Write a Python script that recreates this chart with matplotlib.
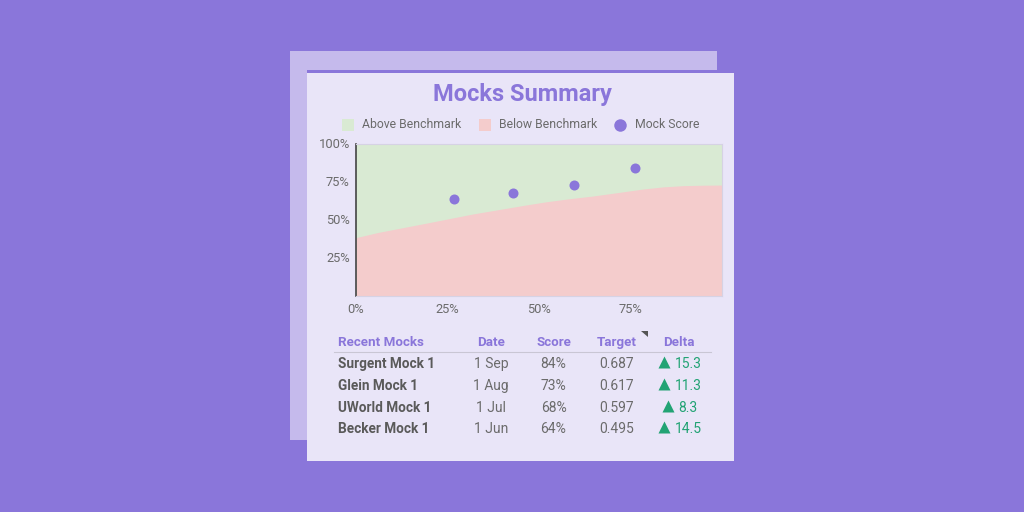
import matplotlib
matplotlib.use("Agg")
import matplotlib.pyplot as plt
from matplotlib.patches import Rectangle, Polygon
from matplotlib.transforms import ScaledTranslation

BG = "#8A76DA"
BACK = "#C5BAEC"
CARD = "#E9E5F8"
PURPLE = "#8A76DA"
GREEN = "#D9EAD3"
RED = "#F4CCCC"
GREY = "#6B6B6B"
DARK = "#5A5A5A"
TEAL = "#22A374"

bench_x = [0, 6, 12.9, 20, 25.7, 32, 39.4, 46, 52, 58, 64.8, 72, 78.5, 84, 89.4, 95, 100]
bench_y = [38.4, 41.8, 45, 48.3, 51, 54, 57, 59.7, 62, 63.9, 65.8, 68.2, 70.4, 71.8, 72.6, 72.9, 73]
score_x = [26.8, 42.9, 59.6, 76.2]
score_y = [64, 68, 73, 84]
y_ticks = [25, 50, 75, 100]
x_ticks = [0, 25, 50, 75]
legend_labels = ["Above Benchmark", "Below Benchmark", "Mock Score"]
title = "Mocks Summary"
columns = ["Recent Mocks", "Date", "Score", "Target", "Delta"]
names = ["Surgent Mock 1", "Glein Mock 1", "UWorld Mock 1", "Becker Mock 1"]
dates = ["1 Sep", "1 Aug", "1 Jul", "1 Jun"]
scores = ["84%", "73%", "68%", "64%"]
targets = ["0.687", "0.617", "0.597", "0.495"]
deltas = ["15.3", "11.3", "8.3", "14.5"]

fig = plt.figure(figsize=(10.24, 5.12), dpi=100, facecolor=BG)
plt.rcParams["font.family"] = ["Roboto", "DejaVu Sans"]

# Pixel-space overlay
ov = fig.add_axes([0, 0, 1, 1], zorder=0)
ov.set_xlim(0, 1024)
ov.set_ylim(512, 0)
ov.axis("off")
ov.add_patch(Rectangle((290, 51), 427, 389, fc=BACK, ec="none"))
ov.add_patch(Rectangle((307, 72.5), 426.5, 388, fc=CARD, ec="none"))
ov.add_patch(Rectangle((307, 70), 426.5, 2.5, fc=PURPLE, ec="none"))

ov.text(522, 94, title, ha="center", va="center", fontsize=17, fontweight="bold",
        color=PURPLE, family=["Roboto", "DejaVu Sans"])

# Legend
ov.add_patch(Rectangle((342, 119), 12, 12, fc=GREEN, ec="none"))
ov.text(362, 125, legend_labels[0], va="center", fontsize=8.85, color=GREY)
ov.add_patch(Rectangle((478.5, 119), 12, 12, fc=RED, ec="none"))
ov.text(499, 125, legend_labels[1], va="center", fontsize=8.85, color=GREY)
ov.plot([620], [124.5], "o", ms=9, color=PURPLE, mec="none")
ov.text(635, 125, legend_labels[2], va="center", fontsize=8.85, color=GREY)

# Chart
ax = fig.add_axes([356 / 1024, 1 - 296 / 512, 366 / 1024, 152 / 512], zorder=1)
ax.set_xlim(0, 100)
ax.set_ylim(0, 100)
ax.set_facecolor(GREEN)
ax.fill_between(bench_x, 0, bench_y, color=RED, lw=0)
ax.scatter(score_x, score_y, s=52, color=PURPLE, lw=0, zorder=3)
for side in ("top", "right", "bottom"):
    ax.spines[side].set_color("#D6D2E4")
    ax.spines[side].set_linewidth(0.8)
ax.spines["left"].set_color("#444444")
ax.spines["left"].set_linewidth(1.2)
ax.set_xticks(x_ticks, [f"{t}%" for t in x_ticks])
ax.set_yticks(y_ticks, [f"{t}%" for t in y_ticks])
ax.tick_params(length=0, labelsize=9.3, labelcolor=GREY)
ax.tick_params(axis="x", pad=5)
ax.tick_params(axis="y", pad=4.5)
up = ScaledTranslation(0, 1.2 / 100, fig.dpi_scale_trans)
for lab in ax.get_yticklabels():
    lab.set_transform(lab.get_transform() + up)

# Table
col_x = [338, 491, 553.5, 616.5, 679]
rows_y = [364, 386, 407.5, 429]
hy = 342.5
ov2 = fig.add_axes([0, 0, 1, 1], zorder=2)
ov2.set_xlim(0, 1024)
ov2.set_ylim(512, 0)
ov2.axis("off")
for i, c in enumerate(columns):
    ov2.text(col_x[i], hy, c, ha="left" if i == 0 else "center", va="center",
             fontsize=9.6, fontweight="bold", color=PURPLE)
ov2.plot([334, 711], [352, 352], color="#C9C6D4", lw=0.8)
ov2.add_patch(Polygon([[641, 331], [647.5, 331], [647.5, 337]], fc="#555555", ec="none"))
for i, y in enumerate(rows_y):
    ov2.text(col_x[0], y, names[i], va="center", fontsize=9.8, fontweight="bold", color=DARK)
    ov2.text(col_x[1], y, dates[i], ha="center", va="center", fontsize=10, color=GREY)
    ov2.text(col_x[2], y, scores[i], ha="center", va="center", fontsize=10, color=GREY)
    ov2.text(col_x[3], y, targets[i], ha="center", va="center", fontsize=10, color=GREY)
    tx = 664 if len(deltas[i]) == 4 else 668
    ov2.plot([tx], [y - 2], "^", ms=8.5, color=TEAL, mec="none")
    ov2.text(tx + 10.5, y, deltas[i], va="center", fontsize=10, color=TEAL)

fig.savefig("out.png", dpi=100, facecolor=BG)
